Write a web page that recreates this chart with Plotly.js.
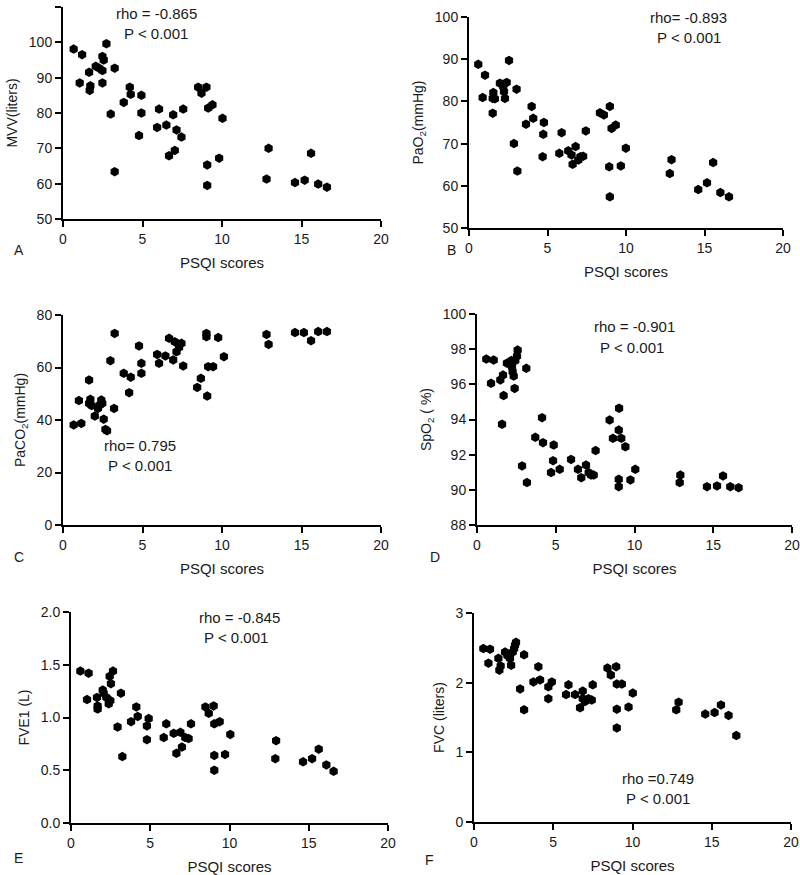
<!DOCTYPE html>
<html>
<head>
<meta charset="utf-8">
<script src="https://cdn.plot.ly/plotly-3.0.1.min.js"></script>
<style>html,body{margin:0;padding:0;background:#fff;}#chart{width:800px;height:875px;}</style>
</head>
<body>
<div id="chart"></div>
<script>
// ---- Data ----
const psqiA = [0.67,1.2,1.05,1.64,1.72,1.68,2.06,2.27,2.48,2.48,2.48,2.56,2.73,3.25,3.0,3.25,3.82,4.2,4.26,4.93,4.93,4.78,5.92,6.04,6.5,6.67,7.03,6.93,7.14,7.45,7.56,8.5,8.71,9.02,9.13,9.4,9.07,9.07,9.82,10.03,12.8,12.93,14.59,15.2,15.6,16.05,16.6];
const mvv = [98.1,96.5,88.5,91.5,87.7,86.4,93.2,92.7,92,88.5,96,95,99.6,92.7,79.7,63.4,83,87.3,85.3,85,80,73.6,75.9,81.1,76.6,67.9,69.4,79.5,75.2,73.2,81.1,87.3,85.6,87.3,81.4,82.3,65.3,59.5,67.2,78.5,61.3,70,60.3,61,68.6,59.9,59];

const psqiB = [0.59,1.02,0.87,1.55,1.51,1.65,1.51,1.97,2.18,2.23,2.29,2.4,2.55,3.03,2.86,3.08,3.63,3.99,4.09,4.77,4.73,4.69,5.75,5.9,6.32,6.53,6.6,6.79,6.96,7.1,7.27,7.44,8.34,8.59,8.97,8.93,8.97,9.08,9.35,9.67,9.99,12.79,12.9,14.6,15.16,15.55,16.01,16.56];
const pao2 = [88.8,86.2,80.9,82.1,80.7,80.6,77.2,84.3,83.5,82.3,80.7,84.5,89.7,82.9,70,63.5,74.6,78.8,76,75,72.2,66.9,67.7,72.6,68.3,67.3,65.1,69.3,66.1,66.9,67,73,77.3,76.8,78.8,64.5,57.4,73.6,74.4,64.7,68.9,62.9,66.2,59.1,60.7,65.5,58.4,57.4];

const psqiC = [0.67,1.15,1.0,1.64,1.64,1.72,1.8,2.0,2.2,2.3,2.41,2.47,2.56,2.67,2.77,2.98,3.21,3.25,3.82,4.16,4.26,4.78,4.93,4.93,5.92,6.04,6.44,6.67,6.93,7.03,7.14,7.3,7.45,7.56,8.44,8.67,9.02,9.02,9.07,9.13,9.44,9.76,10.12,12.8,12.93,14.59,15.15,15.6,16.05,16.6];
const paco2 = [38.1,38.7,47.4,55.2,46.3,47.9,45.5,41.5,44.4,45.7,47.6,46.3,40.3,36.4,35.9,62.6,44.4,73,57.8,50.4,56.3,68.2,61.6,57.8,65,61.6,64.4,71.1,62.9,69.8,66,67.7,69.2,60.6,52.4,55.9,73,71.7,49.1,60.3,60.3,71.4,64.1,72.6,68.8,73.3,73.3,70.2,73.7,73.7];

const psqiD = [0.59,1.06,0.89,1.48,1.65,1.69,1.59,1.9,2.18,2.22,2.26,2.33,2.39,2.43,2.54,2.58,3.13,2.86,3.17,3.7,4.13,4.19,4.87,4.83,4.7,5.25,5.97,6.41,6.62,6.92,7.09,7.24,7.41,7.53,8.42,8.63,9.02,9.0,9.0,9.0,9.16,9.42,9.74,10.05,12.91,12.87,14.6,15.24,15.62,16.08,16.61];
const spo2 = [97.44,97.38,96.06,96.25,96.53,95.36,93.73,97.2,97.35,97.0,96.72,96.47,95.77,97.35,97.6,97.95,96.91,91.36,90.41,92.99,94.1,92.68,92.55,91.66,90.98,91.17,91.73,91.17,90.69,91.41,90.98,90.84,90.84,92.23,93.97,92.93,94.64,93.4,90.6,90.18,92.93,92.45,90.56,91.17,90.84,90.41,90.18,90.22,90.79,90.18,90.12];

const psqiE = [0.59,1.11,1.01,1.64,1.68,1.68,2.0,2.06,2.23,2.38,2.44,2.52,2.65,2.48,2.94,3.15,3.24,3.79,4.12,4.21,4.79,4.9,4.79,5.85,6.01,6.48,6.65,6.9,7.0,7.21,7.42,7.57,8.48,8.69,9.0,9.04,9.38,9.04,9.04,9.72,10.05,12.89,12.94,14.64,15.21,15.63,16.11,16.57];
const fev1 = [1.44,1.42,1.17,1.19,1.11,1.08,1.26,1.23,1.19,1.13,1.39,1.32,1.44,1.16,0.91,1.23,0.63,0.96,1.10,1.01,0.92,0.99,0.79,0.81,0.94,0.85,0.66,0.86,0.72,0.81,0.80,0.94,1.10,1.04,1.11,0.94,0.96,0.64,0.50,0.65,0.84,0.61,0.78,0.58,0.61,0.70,0.55,0.49];

const psqiF = [0.59,1.01,0.91,1.54,1.6,1.68,1.96,2.11,2.27,2.34,2.44,2.53,2.65,2.59,3.16,2.91,3.16,3.75,4.06,4.17,4.69,4.91,4.69,5.81,5.96,6.38,6.69,6.86,6.86,7.01,7.22,7.43,7.49,8.42,8.63,8.97,9.01,9.01,9.01,9.33,9.75,10.02,12.76,12.91,14.59,15.18,15.58,16.06,16.55];
const fvc = [2.49,2.48,2.28,2.35,2.18,2.24,2.44,2.39,2.35,2.25,2.44,2.49,2.58,2.54,2.40,1.91,1.61,2.01,2.23,2.04,1.94,2.01,1.77,1.83,1.97,1.83,1.64,1.88,1.77,1.73,1.77,1.75,1.97,2.21,2.11,2.23,1.98,1.62,1.35,1.98,1.65,1.85,1.61,1.72,1.55,1.57,1.68,1.53,1.24];

const panelLetters = ['A','B','C','D','E','F'];
const yTitles = ['MVV(liters)','PaO<sub>2</sub>(mmHg)','PaCO<sub>2</sub>(mmHg)','SpO<sub>2</sub> ( %)','FVE1 (L)','FVC (liters)'];
const rhoTexts = ['rho = -0.865','rho= -0.893','rho= 0.795','rho = -0.901','rho = -0.845','rho =0.749'];
const pText = 'P < 0.001';
const xTitle = 'PSQI scores';

// ---- Layout / styling ----
const W = 800, H = 875;
const FONT = '"Liberation Sans", Arial, sans-serif';
const TXT = '#1a1a1a';
const px = v => v / W, py = v => 1 - v / H;

// pixel boxes [left, right, top, bottom]
const boxes = [
  [63, 381, 7, 219],
  [469, 783, 17, 228],
  [63, 381, 315, 525],
  [477, 792, 314, 525],
  [71, 388, 612, 823],
  [474, 791, 613, 822]
];
const yRanges = [[50,110],[50,100],[0,80],[88,100],[0,2],[0,3]];
const yDticks = [10,10,20,2,0.5,1];
const yFormats = ['','','','','.1f',''];
const xs = [psqiA, psqiB, psqiC, psqiD, psqiE, psqiF];
const ys = [mvv, pao2, paco2, spo2, fev1, fvc];
const letterPos = [[12,250],[445,250],[12,557],[428,557],[12,858],[423,860]];
const rhoPos = [[156,13],[688,17],[140,445],[634,327],[239,617],[658,778]];
const pPos = [[156,34],[689,38],[140,465],[632,347],[236,637],[658,798]];

const traces = [];
const layout = {
  width: W, height: H,
  margin: {l:0, r:0, t:0, b:0},
  paper_bgcolor: '#fff', plot_bgcolor: 'rgba(0,0,0,0)',
  showlegend: false,
  font: {family: FONT, color: TXT, size: 14},
  annotations: []
};

for (let i = 0; i < 6; i++) {
  const s = i === 0 ? '' : String(i + 1);
  const b = boxes[i];
  traces.push({
    type: 'scatter', mode: 'markers',
    x: xs[i], y: ys[i],
    xaxis: 'x' + s, yaxis: 'y' + s,
    cliponaxis: false,
    marker: {symbol: 'hexagon', size: 9.5, color: '#000', line: {width: 0}},
    hoverinfo: 'x+y'
  });
  const axCommon = {
    showgrid: false, zeroline: false, showline: true,
    linecolor: '#000', linewidth: 2,
    ticks: 'outside', ticklen: 6, tickwidth: 2, tickcolor: '#000',
    tickfont: {family: FONT, size: 14, color: TXT},
    automargin: false, fixedrange: true
  };
  layout['xaxis' + s] = Object.assign({}, axCommon, {
    domain: [px(b[0]), px(b[1])],
    anchor: 'y' + s,
    range: [0, 20], tickmode: 'linear', tick0: 0, dtick: 5,
    title: {text: xTitle, font: {family: FONT, size: 15, color: TXT}, standoff: 12}
  });
  layout['yaxis' + s] = Object.assign({}, axCommon, {
    domain: [py(b[3]), py(b[2])],
    anchor: 'x' + s,
    range: yRanges[i], tickmode: 'linear', tick0: yRanges[i][0], dtick: yDticks[i],
    tickformat: yFormats[i],
    title: {text: yTitles[i], font: {family: FONT, size: 14, color: TXT}, standoff: 8}
  });
  layout.annotations.push({
    xref: 'paper', yref: 'paper', x: px(letterPos[i][0]), y: py(letterPos[i][1]),
    xanchor: 'left', yanchor: 'middle', showarrow: false,
    text: panelLetters[i], font: {family: FONT, size: 14, color: TXT}
  });
  layout.annotations.push({
    xref: 'paper', yref: 'paper', x: px(rhoPos[i][0]), y: py(rhoPos[i][1]),
    xanchor: 'center', yanchor: 'middle', showarrow: false,
    text: rhoTexts[i], font: {family: FONT, size: 15, color: TXT}
  });
  layout.annotations.push({
    xref: 'paper', yref: 'paper', x: px(pPos[i][0]), y: py(pPos[i][1]),
    xanchor: 'center', yanchor: 'middle', showarrow: false,
    text: pText, font: {family: FONT, size: 15, color: TXT}
  });
}

Plotly.newPlot('chart', traces, layout, {displayModeBar: false, staticPlot: true});
</script>
</body>
</html>
